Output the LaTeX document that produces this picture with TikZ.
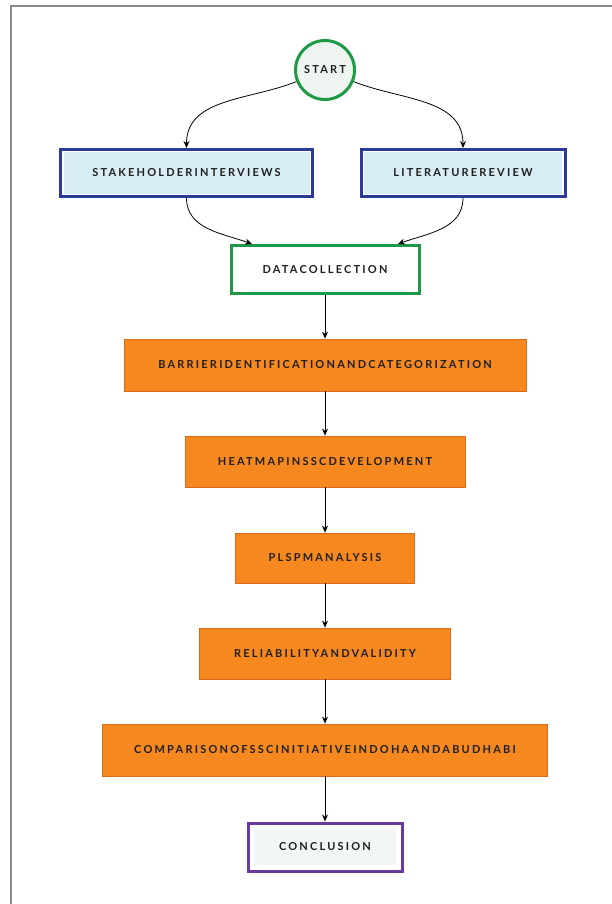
\documentclass[tikz,border=0pt]{standalone}
\usepackage{fontspec}
\usetikzlibrary{arrows.meta}
\newfontfamily\boxfont{Lato}[LetterSpace=20]

\definecolor{framegray}{HTML}{8A8A8A}
\definecolor{startgreen}{HTML}{1E9A46}
\definecolor{startfill}{HTML}{EEF5F0}
\definecolor{stepblue}{HTML}{2B3A98}
\definecolor{steplight}{HTML}{D8EDF5}
\definecolor{steporange}{HTML}{F5881F}
\definecolor{orangeedge}{HTML}{DA6A18}
\definecolor{endpurple}{HTML}{6A3A9E}
\definecolor{endfill}{HTML}{F2F6F6}
\definecolor{labelink}{HTML}{1F1F1F}

\tikzset{
  lbl/.style={font=\boxfont\bfseries\fontsize{11}{13}\selectfont, text=labelink},
  startnode/.style={lbl, circle, draw=startgreen, line width=3pt, fill=startfill,
    minimum size=59pt, inner sep=0pt},
  bluebox/.style={lbl, rectangle, draw=stepblue, line width=3pt, fill=white,
    minimum height=47pt, inner sep=0pt},
  greenbox/.style={lbl, rectangle, draw=startgreen, line width=3pt, fill=white,
    minimum height=48pt, inner sep=0pt},
  orangebox/.style={lbl, rectangle, draw=orangeedge, line width=0.8pt, fill=steporange,
    minimum height=51pt, inner sep=0pt},
  purplebox/.style={lbl, rectangle, draw=endpurple, line width=3pt, fill=white,
    minimum height=48pt, inner sep=0pt},
  flow/.style={draw=black, line width=0.8pt, -{Stealth[length=7pt,width=6pt]}},
}

\begin{document}
\begin{tikzpicture}[x=1pt,y=-1pt]
  \useasboundingbox (0,0) rectangle (612,904);
  % page frame (left and top edges)
  \draw[framegray, line width=2pt] (10.5,904) -- (10.5,6) -- (612,6);

  % start
  \node[startnode] (start) at (325,70) {START};

  % first row: two inputs with an inner tinted panel
  \node[bluebox, minimum width=252pt] (stake) at (186.5,173) {};
  \fill[steplight] (63.5,152.5) rectangle (309.5,193.5);
  \node[lbl] (staket) at (186.5,173) {STAKEHOLDERINTERVIEWS};

  \node[bluebox, minimum width=204pt] (lit) at (463,173) {};
  \fill[steplight] (364,152.5) rectangle (562,193.5);
  \node[lbl] (litt) at (463,173) {LITERATUREREVIEW};

  % data collection
  \node[greenbox, minimum width=188pt] (data) at (325,269.5) {DATACOLLECTION};

  % analysis steps
  \node[orangebox, minimum width=402pt, minimum height=52pt] (barrier) at (325,365)
    {BARRIERIDENTIFICATIONANDCATEGORIZATION};
  \node[orangebox, minimum width=280pt] (heat) at (325,461.5) {HEATMAPINSSCDEVELOPMENT};
  \node[orangebox, minimum width=179pt, minimum height=50pt] (plspm) at (325,558) {PLSPMANALYSIS};
  \node[orangebox, minimum width=251pt] (rel) at (325,653.5) {RELIABILITYANDVALIDITY};
  \node[orangebox, minimum width=445pt, minimum height=52pt] (comp) at (325,750)
    {COMPARISONOFSSCINITIATIVEINDOHAANDABUDHABI};

  % conclusion with an inner tinted panel
  \node[purplebox, minimum width=154pt] (concl) at (325,847) {};
  \fill[endfill] (254,829) rectangle (396,865);
  \node[lbl] (conclt) at (325,847) {CONCLUSION};

  % connectors
  \draw[flow] (start.202) to[out=-158,in=90] (stake.north);
  \draw[flow] (start.-22) to[out=-22,in=90] (lit.north);
  \draw[flow] (stake.south) to[out=-90,in=160] ([xshift=-73pt]data.north);
  \draw[flow] (lit.south) to[out=-90,in=20] ([xshift=73pt]data.north);
  \draw[flow] (data) -- (barrier);
  \draw[flow] (barrier) -- (heat);
  \draw[flow] (heat) -- (plspm);
  \draw[flow] (plspm) -- (rel);
  \draw[flow] (rel) -- (comp);
  \draw[flow] (comp) -- (concl);
\end{tikzpicture}
\end{document}
